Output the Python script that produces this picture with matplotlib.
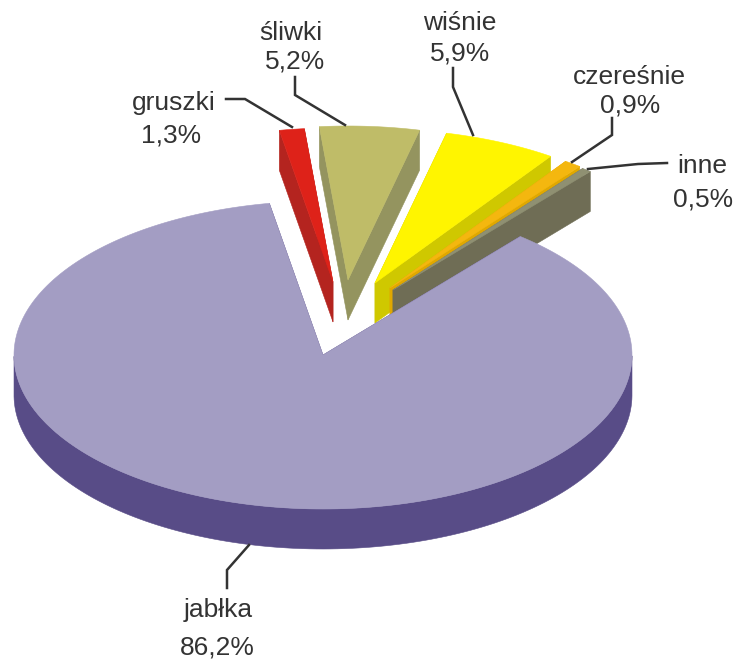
#!/usr/bin/env python3
"""Exploded pseudo-3D pie chart of fruit shares, drawn with polygons."""
from __future__ import annotations

import numpy as np
import matplotlib

matplotlib.use("Agg")
import matplotlib.pyplot as plt
from matplotlib.patches import Polygon

names = ["gruszki", "śliwki", "wiśnie", "czereśnie", "inne", "jabłka"]
shares = [1.3, 5.2, 5.9, 0.9, 0.5, 86.2]
share_labels = ["1,3%", "5,2%", "5,9%", "0,9%", "0,5%", "86,2%"]

top_colors = ["#DE2219", "#BFBC68", "#FFF500", "#F4B70F", "#8F9072", "#A39DC3"]
side_colors = ["#B4241F", "#94945F", "#CFC800", "#E0A800", "#6F6D55", "#584C87"]

# pie geometry in pixels
CENTER = (323.0, 355.0)
RX, RY = 309.0, 154.0
DEPTH = 40.0
START_ANGLE = 100.0

# how far each slice is pulled out of the pie
offsets = [(10, -73), (25, -75), (52, -72), (67, -67), (70, -65), (0, 0)]

# text centre of the name and of the share
name_pos = [(174, 103), (291, 33), (460, 23), (629, 77), (702, 166), (218, 610)]
share_pos = [(171, 135), (295, 62), (460, 53), (630, 105), (703, 199), (217, 647)]

leaders = [
    [(226, 99), (245, 99), (292, 127)],
    [(295, 77), (295, 95), (345, 125)],
    [(453, 68), (453, 87), (473, 135)],
    [(612, 118), (612, 135), (572, 162)],
    [(667, 163), (638, 164), (588, 169)],
    [(227, 588), (227, 570), (249, 545)],
]


def arc_points(cx, cy, a0, a1):
    angles = np.radians(np.linspace(a0, a1, 240))
    return np.column_stack((cx + RX * np.cos(angles), cy - RY * np.sin(angles)))


def draw_slice(ax, a0, a1, offset, top, side):
    """Draw side faces first, then the top face over them."""
    cx, cy = CENTER[0] + offset[0], CENTER[1] + offset[1]
    arc = arc_points(cx, cy, a0, a1)
    apex = np.array([[cx, cy]])
    outline = np.vstack((apex, arc))
    drop = np.array([0, DEPTH])

    for p, q in ((outline[0], outline[1]), (outline[0], outline[-1])):
        quad = np.array([p, q, q + drop, p + drop])
        ax.add_patch(Polygon(quad, closed=True, fc=side, ec=side, lw=0.4))

    # only the front part of the rim can be seen
    front = arc[np.sin(np.radians(np.linspace(a0, a1, 240))) <= 0]
    if len(front):
        rim = np.vstack((front, (front + drop)[::-1]))
        ax.add_patch(Polygon(rim, closed=True, fc=side, ec=side, lw=0.4))

    ax.add_patch(Polygon(outline, closed=True, fc=top, ec=top, lw=0.4))


def main() -> None:
    plt.rcParams["font.family"] = ["Liberation Sans", "DejaVu Sans"]
    fig = plt.figure(figsize=(7.38, 6.61), dpi=100)
    ax = fig.add_axes([0, 0, 1, 1])
    ax.set_xlim(0, 738)
    ax.set_ylim(661, 0)
    ax.axis("off")

    # clockwise from the start angle for the small slices
    spans = []
    angle = START_ANGLE
    for share in shares:
        sweep = share * 3.6
        spans.append((angle - sweep, angle))
        angle -= sweep

    for span, offset, top, side in zip(spans, offsets, top_colors, side_colors):
        draw_slice(ax, span[0], span[1], offset, top, side)

    for points in leaders:
        xs, ys = zip(*points)
        ax.plot(xs, ys, color="#333333", lw=1.8, solid_joinstyle="miter", zorder=5)

    for name, label, npos, spos in zip(names, share_labels, name_pos, share_pos):
        ax.text(*npos, name, ha="center", va="center", fontsize=19, color="#333333")
        ax.text(*spos, label, ha="center", va="center", fontsize=19, color="#333333")

    fig.savefig("out.png", dpi=100)


if __name__ == "__main__":
    main()
